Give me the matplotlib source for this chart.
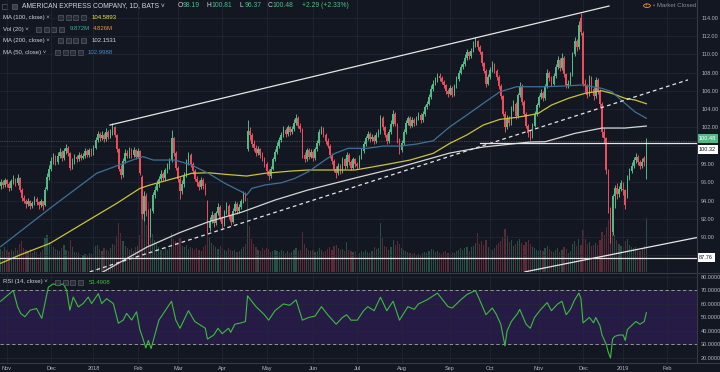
import matplotlib
matplotlib.use('Agg')
import matplotlib.pyplot as plt
from matplotlib.patches import Rectangle, Circle
from matplotlib.lines import Line2D
import numpy as np

# daily bars, AXP, late Oct 2017 .. mid Jan 2019 (index = trading day)
OPEN = [
    95.6, 96.0, 95.7, 96.2, 95.8, 95.4, 96.1, 96.3, 95.9, 96.5,
    95.2, 94.3, 94.0, 93.6, 93.9, 93.4, 93.7, 94.2, 93.8, 93.5,
    93.9, 93.5, 95.3, 96.6, 97.5, 98.3, 98.8, 98.2, 98.9, 99.3,
    98.6, 99.4, 99.8, 99.2, 97.6, 98.2, 98.8, 98.5, 99.0, 98.7,
    98.9, 99.4, 99.0, 99.5, 99.3, 99.8, 100.6, 101.3, 100.8, 101.2,
    100.7, 101.5, 101.0, 101.4, 102.0, 101.2, 99.6, 97.5, 96.8, 98.3,
    99.2, 98.9, 99.6, 99.0, 99.5, 98.8, 99.4, 96.6, 92.5, 94.5,
    92.8, 90.3, 92.8, 94.6, 95.2, 95.8, 96.4, 96.9, 96.5, 97.3,
    97.8, 98.4, 100.8, 99.2, 97.6, 96.4, 95.0, 95.8, 96.8, 98.2,
    99.0, 98.0, 97.2, 96.4, 96.0, 95.5, 96.3, 95.6, 94.0, 91.0,
    91.8, 92.4, 91.5, 92.6, 93.3, 92.1, 91.4, 92.7, 93.4, 92.3,
    91.7, 92.9, 93.6, 92.8, 93.3, 93.9, 94.6, 99.6, 101.6, 101.2,
    100.2, 99.8, 99.2, 99.6, 99.0, 98.6, 98.0, 97.2, 96.7, 97.5,
    98.5, 99.3, 100.0, 100.6, 101.2, 101.7, 101.3, 102.0, 101.5, 101.8,
    102.5, 103.0, 102.2, 101.8, 99.0, 98.5, 99.5, 98.8, 99.3, 98.6,
    99.6, 100.3, 101.5, 101.8, 101.2, 100.5, 100.0, 99.0, 98.3, 97.5,
    97.0, 97.8, 97.2, 98.5, 97.8, 99.0, 98.2, 97.6, 98.5, 98.0,
    97.8, 98.7, 99.4, 100.2, 100.8, 101.3, 100.7, 101.0, 100.5, 101.2,
    101.5, 103.0, 102.0, 101.2, 100.5, 101.5, 102.4, 103.5, 102.4, 100.6,
    99.5, 100.3, 101.5, 102.5, 103.0, 102.2, 102.8, 102.5, 103.0, 103.4,
    102.8, 103.5, 104.2, 104.6, 105.3, 106.2, 106.8, 107.2, 107.6, 107.4,
    107.0, 106.6, 106.0, 105.7, 106.3, 105.6, 106.5, 107.3, 108.0, 108.6,
    108.9, 109.6, 110.2, 109.8, 110.4, 111.0, 111.4, 110.8, 110.3, 109.0,
    108.2, 106.8, 107.5, 108.3, 108.9, 108.2, 107.5, 106.5, 105.4, 103.5,
    102.0, 103.0, 102.5, 104.0, 104.6, 103.2, 105.5, 106.5, 104.8, 103.5,
    102.2, 101.4, 101.0, 102.2, 103.5, 104.4, 105.3, 105.8, 105.2, 106.5,
    108.0, 107.4, 106.8, 107.6, 108.6, 109.4, 108.5, 109.6, 107.8, 106.6,
    106.8, 107.8, 110.0, 111.5, 110.8, 114.0, 112.3, 106.8, 106.5, 105.6,
    107.4, 106.2, 105.4, 107.2, 106.0, 104.6, 101.5, 100.8, 97.3, 93.0,
    90.6, 94.5, 95.4, 94.7, 95.3, 95.3, 95.2, 94.5, 96.5, 97.2,
    97.8, 98.4, 98.8, 98.2, 97.8, 98.6, 98.19]
HIGH = [
    96.4, 96.3, 96.5, 96.4, 96.0, 96.4, 96.8, 96.5, 96.9, 96.6,
    95.4, 94.6, 94.2, 94.3, 94.1, 94.0, 94.5, 94.4, 94.0, 94.2,
    94.0, 95.5, 97.0, 97.9, 98.8, 99.2, 99.0, 99.3, 99.7, 99.5,
    99.7, 100.2, 100.0, 99.3, 98.6, 99.1, 99.0, 99.3, 99.2, 99.2,
    99.8, 99.6, 99.8, 99.7, 100.1, 100.9, 101.6, 101.5, 101.6, 101.4,
    101.9, 101.7, 101.8, 102.5, 102.2, 101.3, 99.7, 97.9, 98.6, 99.6,
    99.5, 99.9, 99.8, 99.9, 99.6, 99.8, 99.5, 96.8, 95.0, 94.8,
    93.1, 93.2, 94.9, 95.6, 96.2, 96.7, 97.3, 97.1, 97.6, 98.1,
    98.6, 101.7, 101.0, 99.4, 97.8, 96.6, 96.2, 97.1, 98.5, 99.3,
    99.2, 98.2, 97.4, 96.7, 96.2, 96.6, 96.5, 95.9, 94.1, 92.2,
    92.8, 92.6, 92.9, 93.7, 93.5, 92.3, 93.0, 93.8, 93.6, 92.5,
    93.2, 94.0, 93.8, 93.6, 94.2, 95.0, 94.9, 102.8, 102.0, 101.4,
    100.6, 100.1, 100.0, 99.8, 99.3, 98.8, 98.2, 97.5, 97.8, 98.8,
    99.6, 100.4, 100.9, 101.5, 102.1, 101.9, 102.3, 102.2, 102.1, 102.9,
    103.5, 103.2, 102.5, 101.9, 99.3, 99.8, 99.7, 99.6, 99.5, 99.9,
    100.6, 101.8, 102.2, 102.0, 101.4, 100.8, 100.2, 99.2, 98.5, 97.8,
    98.1, 98.0, 98.8, 98.7, 99.3, 99.2, 98.4, 98.8, 98.7, 98.2,
    99.0, 99.7, 100.5, 101.1, 101.6, 101.5, 101.3, 101.2, 101.5, 101.8,
    103.4, 103.2, 102.2, 101.4, 101.8, 102.8, 103.9, 103.7, 102.5, 100.8,
    100.6, 101.8, 102.8, 103.3, 103.2, 103.1, 103.0, 103.3, 103.7, 103.6,
    103.8, 104.5, 104.9, 105.7, 106.6, 107.2, 107.5, 108.0, 107.9, 107.6,
    107.2, 106.8, 106.2, 106.6, 106.5, 106.8, 107.6, 108.3, 108.9, 109.3,
    110.0, 110.6, 110.4, 110.7, 111.4, 111.9, 111.6, 111.0, 110.4, 109.2,
    108.4, 107.8, 108.6, 109.3, 109.1, 108.4, 107.7, 106.7, 105.6, 103.8,
    103.4, 103.3, 104.3, 105.0, 104.8, 105.8, 107.0, 106.7, 105.0, 103.7,
    102.4, 101.7, 102.5, 103.8, 104.7, 105.6, 106.2, 106.0, 106.8, 108.4,
    108.2, 107.6, 107.9, 108.9, 109.8, 109.6, 110.1, 109.8, 108.0, 107.2,
    108.1, 110.3, 111.9, 111.7, 113.6, 114.5, 112.5, 107.3, 106.8, 107.7,
    107.6, 106.4, 107.5, 107.4, 106.2, 104.8, 101.9, 101.0, 97.5, 93.3,
    94.7, 95.7, 95.9, 95.6, 96.2, 96.0, 95.3, 96.8, 97.6, 98.2,
    98.8, 99.2, 99.0, 98.4, 98.6, 98.9, 100.81]
LOW = [
    95.3, 95.4, 95.5, 95.5, 95.0, 95.2, 95.8, 95.6, 95.7, 94.9,
    94.0, 93.7, 93.2, 93.4, 93.1, 93.2, 93.5, 93.5, 93.1, 93.3,
    93.0, 93.4, 95.1, 96.3, 97.2, 98.0, 97.9, 98.0, 98.7, 98.3,
    98.4, 99.1, 98.9, 97.3, 97.4, 98.0, 98.2, 98.3, 98.4, 98.5,
    98.7, 98.8, 98.8, 98.9, 99.0, 99.6, 100.4, 100.5, 100.6, 100.4,
    100.5, 100.7, 100.8, 101.2, 100.9, 99.3, 97.2, 96.4, 96.6, 98.1,
    98.6, 98.7, 98.7, 98.8, 98.5, 98.6, 96.8, 92.0, 91.8, 92.3,
    89.1, 90.0, 92.6, 94.3, 95.0, 95.5, 96.1, 96.2, 96.3, 97.0,
    97.5, 98.2, 98.9, 97.3, 96.0, 94.2, 94.7, 95.5, 96.6, 97.9,
    97.7, 96.9, 96.1, 95.6, 95.1, 95.3, 95.3, 94.6, 90.4, 90.7,
    91.5, 91.1, 91.3, 92.4, 91.8, 91.0, 91.2, 92.5, 92.0, 91.3,
    91.5, 92.7, 92.5, 92.6, 93.1, 93.7, 94.0, 99.4, 100.6, 99.9,
    99.4, 98.9, 99.0, 98.7, 98.3, 97.7, 96.8, 96.3, 96.5, 97.3,
    98.3, 99.1, 99.8, 100.4, 101.0, 101.0, 101.1, 101.2, 101.3, 101.6,
    102.3, 101.9, 101.5, 98.7, 98.2, 98.3, 98.5, 98.6, 98.3, 98.4,
    99.4, 100.1, 101.3, 100.9, 100.2, 99.7, 98.7, 98.0, 97.1, 96.5,
    96.8, 96.9, 97.0, 97.5, 97.6, 97.9, 97.3, 97.4, 97.7, 97.4,
    97.6, 98.5, 99.2, 100.0, 100.6, 100.4, 100.5, 100.2, 100.3, 101.0,
    101.3, 101.7, 100.9, 100.2, 100.3, 101.3, 102.2, 102.1, 100.3, 99.1,
    99.3, 100.1, 101.3, 102.3, 101.9, 102.0, 102.2, 102.3, 102.8, 102.5,
    102.6, 103.3, 104.0, 104.4, 105.1, 106.0, 106.6, 107.0, 107.1, 106.7,
    106.3, 105.7, 105.3, 105.5, 105.3, 105.4, 106.3, 107.1, 107.8, 108.4,
    108.7, 109.4, 109.5, 109.6, 110.2, 110.8, 110.5, 110.0, 108.7, 107.9,
    106.4, 106.6, 107.3, 108.1, 107.9, 107.2, 106.2, 105.1, 103.2, 101.5,
    101.8, 102.1, 102.3, 103.8, 102.9, 103.0, 105.3, 104.5, 103.2, 101.9,
    101.0, 100.6, 100.8, 102.0, 103.3, 104.2, 105.1, 104.9, 105.0, 106.3,
    107.1, 106.5, 106.6, 107.4, 108.4, 108.2, 108.3, 107.5, 106.3, 106.3,
    106.6, 107.6, 109.8, 110.4, 110.6, 112.1, 106.5, 105.9, 105.2, 105.4,
    105.9, 105.0, 105.2, 105.7, 104.2, 101.0, 100.3, 96.9, 92.6, 89.3,
    90.2, 93.2, 94.2, 94.4, 95.0, 94.6, 93.1, 94.3, 96.2, 97.0,
    97.6, 98.1, 97.9, 97.4, 97.6, 97.8, 96.37]
CLOSE = [
    96.0, 95.7, 96.2, 95.8, 95.4, 96.1, 96.3, 95.9, 96.5, 95.2,
    94.3, 94.0, 93.6, 93.9, 93.4, 93.7, 94.2, 93.8, 93.5, 93.9,
    93.4, 95.2, 96.6, 97.5, 98.3, 98.8, 98.2, 98.9, 99.3, 98.6,
    99.4, 99.8, 99.2, 97.6, 98.2, 98.8, 98.5, 99.0, 98.7, 98.9,
    99.4, 99.0, 99.5, 99.2, 99.8, 100.6, 101.3, 100.8, 101.2, 100.7,
    101.5, 101.0, 101.4, 102.0, 101.2, 99.6, 97.5, 96.8, 98.3, 99.2,
    98.9, 99.6, 99.0, 99.5, 98.8, 99.4, 97.0, 92.5, 94.5, 92.8,
    90.3, 92.8, 94.6, 95.2, 95.8, 96.4, 96.9, 96.5, 97.3, 97.8,
    98.3, 100.8, 99.2, 97.6, 96.4, 95.0, 95.8, 96.8, 98.2, 99.0,
    98.0, 97.2, 96.4, 96.0, 95.5, 96.3, 95.6, 94.9, 91.0, 91.8,
    92.4, 91.5, 92.6, 93.3, 92.1, 91.4, 92.7, 93.4, 92.3, 91.7,
    92.9, 93.6, 92.8, 93.3, 93.9, 94.6, 94.3, 101.6, 101.2, 100.2,
    99.8, 99.2, 99.6, 99.0, 98.6, 98.0, 97.2, 96.7, 97.5, 98.5,
    99.3, 100.0, 100.6, 101.2, 101.7, 101.3, 102.0, 101.5, 101.8, 102.5,
    103.0, 102.2, 101.8, 99.0, 98.5, 99.5, 98.8, 99.3, 98.6, 99.6,
    100.3, 101.5, 101.8, 101.2, 100.5, 100.0, 99.0, 98.3, 97.5, 97.0,
    97.8, 97.2, 98.5, 97.8, 99.0, 98.2, 97.6, 98.5, 98.0, 97.8,
    98.7, 99.4, 100.2, 100.8, 101.3, 100.7, 101.0, 100.5, 101.2, 101.5,
    103.0, 102.0, 101.2, 100.5, 101.5, 102.4, 103.5, 102.4, 100.6, 99.5,
    100.3, 101.5, 102.5, 103.0, 102.2, 102.8, 102.5, 103.0, 103.4, 102.8,
    103.5, 104.2, 104.6, 105.3, 106.2, 106.8, 107.2, 107.6, 107.4, 107.0,
    106.6, 106.0, 105.7, 106.3, 105.6, 106.5, 107.3, 108.0, 108.6, 108.9,
    109.6, 110.2, 109.8, 110.4, 111.0, 111.4, 110.8, 110.3, 109.0, 108.2,
    106.8, 107.5, 108.3, 108.9, 108.2, 107.5, 106.5, 105.4, 103.5, 102.0,
    103.0, 102.5, 104.0, 104.6, 103.2, 105.5, 106.5, 104.8, 103.5, 102.2,
    101.4, 101.0, 102.2, 103.5, 104.4, 105.3, 105.8, 105.2, 106.5, 108.0,
    107.4, 106.8, 107.6, 108.6, 109.4, 108.5, 109.6, 107.8, 106.6, 106.8,
    107.8, 110.0, 111.5, 110.8, 113.2, 112.4, 106.8, 106.5, 105.6, 107.4,
    106.2, 105.4, 107.2, 106.0, 104.6, 101.5, 100.8, 97.3, 93.0, 90.3,
    94.5, 95.4, 94.7, 95.3, 95.9, 95.2, 93.5, 96.5, 97.2, 97.8,
    98.4, 98.8, 98.2, 97.8, 98.2, 98.19, 100.48]
VOLUME = [  # millions
    4.2, 3.8, 4.5, 4.0, 3.6, 4.1, 3.9, 4.4, 4.0, 5.2,
    5.6, 4.3, 4.0, 3.8, 4.2, 3.5, 3.9, 3.7, 2.8, 3.6,
    4.1, 6.2, 6.8, 5.5, 5.0, 4.6, 4.2, 4.0, 3.8, 4.4,
    4.9, 4.1, 3.9, 5.8, 4.5, 3.7, 3.6, 3.4, 2.6, 3.1,
    3.3, 2.9, 3.5, 3.2, 4.6, 4.8, 5.0, 4.2, 3.9, 4.4,
    4.1, 3.8, 4.3, 5.2, 4.9, 6.5, 9.0, 7.2, 5.6, 4.8,
    4.4, 4.0, 4.3, 3.9, 4.6, 4.8, 6.7, 11.5, 9.8, 8.6,
    12.8, 9.5, 7.0, 5.8, 5.2, 4.6, 4.1, 3.9, 4.3, 4.0,
    4.4, 7.2, 6.1, 5.6, 5.4, 6.3, 4.8, 4.5, 5.0, 4.2,
    4.6, 4.3, 4.0, 4.4, 4.1, 3.8, 4.5, 4.9, 8.2, 6.4,
    5.3, 5.0, 4.6, 4.2, 4.8, 4.4, 4.0, 3.9, 4.3, 4.1,
    3.8, 4.0, 3.7, 3.9, 4.2, 4.6, 5.1, 13.6, 8.4, 6.0,
    5.2, 4.6, 4.1, 3.9, 4.3, 4.0, 4.4, 4.2, 3.7, 3.9,
    4.1, 3.8, 3.6, 4.0, 3.9, 3.5, 3.8, 3.4, 3.6, 4.0,
    4.3, 3.9, 4.1, 7.4, 5.2, 4.4, 4.0, 3.8, 4.1, 3.7,
    3.9, 4.3, 4.0, 3.6, 3.8, 4.2, 4.5, 4.1, 4.8, 5.0,
    4.3, 4.0, 4.2, 3.9, 5.4, 4.1, 3.8, 3.6, 3.9, 2.9,
    3.5, 3.8, 3.7, 4.0, 3.6, 3.4, 3.9, 4.6, 4.2, 4.4,
    8.9, 6.2, 4.8, 4.5, 4.1, 4.6, 5.8, 4.9, 5.6, 5.1,
    4.4, 4.0, 3.8, 3.6, 3.4, 3.2, 3.5, 3.1, 3.3, 3.0,
    3.4, 3.7, 3.5, 3.9, 4.2, 4.0, 3.6, 3.8, 3.4, 3.3,
    3.6, 3.9, 3.5, 3.2, 3.7, 3.4, 3.8, 4.1, 4.4, 4.0,
    4.3, 4.6, 3.9, 4.5, 4.8, 5.3, 7.2, 5.1, 5.6, 5.0,
    5.8, 4.6, 4.2, 4.0, 4.4, 4.9, 5.3, 5.7, 6.4, 7.8,
    6.6, 5.4, 5.9, 4.8, 5.2, 5.6, 6.0, 5.3, 4.9, 5.4,
    5.8, 5.1, 4.6, 4.3, 4.0, 3.8, 4.1, 3.9, 4.4, 4.8,
    4.2, 3.9, 3.7, 4.0, 4.3, 3.6, 4.1, 4.5, 4.2, 3.4,
    3.9, 5.2, 5.6, 4.8, 6.1, 5.0, 7.6, 6.0, 5.1, 5.4,
    4.7, 4.9, 5.3, 5.0, 5.8, 7.4, 6.8, 8.3, 9.6, 6.9,
    8.8, 6.7, 5.9, 5.1, 4.8, 4.5, 5.6, 6.0, 4.9, 4.6,
    4.3, 4.5, 4.2, 3.9, 4.4, 4.7, 9.87]

# moving averages (bar index, value)
MA50_IDX = [0, 23.4, 45.5, 64.5, 67.6, 72.3, 82.6, 90.5, 98.4, 106.3, 114.2, 116.6, 119.0,
            125.3, 133.2, 139.5, 145.8, 153.7, 158.4, 164.7, 173.5, 181.3, 189.2, 197.2,
            205.0, 212.9, 220.9, 228.7, 236.6, 244.5, 250.9, 258.0, 267.4, 275.3, 284.8,
            289.6, 295.9, 300.6, 306.0]
MA50_VAL = [88.95, 93.15, 96.98, 98.6, 98.8, 98.43, 98.43, 97.88, 96.98, 95.88, 94.96, 94.6,
            95.33, 95.7, 95.95, 96.43, 97.15, 98.43, 99.16, 99.71, 99.71, 99.96, 99.96,
            100.18, 100.54, 102.07, 103.35, 104.63, 105.9, 106.45, 106.45, 106.45, 106.53,
            106.64, 106.28, 105.9, 104.63, 103.7, 103.0]
MA100_IDX = [0, 9.1, 23.4, 39.1, 55.0, 66.0, 70.8, 85.0, 90.5, 98.4, 106.3, 116.6, 125.3,
             137.9, 145.8, 167.9, 181.3, 194.0, 205.0, 212.9, 220.9, 228.7, 236.6, 244.5,
             250.9, 254.8, 261.1, 269.0, 276.9, 284.8, 289.6, 295.9, 300.6, 306.0]
MA100_VAL = [87.13, 88.04, 89.32, 91.5, 93.69, 95.33, 95.7, 96.6, 96.98, 97.04, 96.87, 96.68,
             96.98, 97.23, 97.34, 97.34, 97.88, 98.43, 99.16, 100.26, 101.17, 102.26, 102.88,
             103.1, 103.35, 103.54, 104.45, 105.18, 105.73, 106.01, 105.73, 105.18, 105.0,
             104.59]
MA200_IDX = [35, 48.5, 69.3, 85.0, 98.2, 114.4, 130.0, 145.6, 167.9, 189.2, 212.9, 228.6,
             250.9, 258.0, 272.2, 285.0, 295.9, 306.0]
MA200_VAL = [84.6, 86.18, 88.9, 90.5, 91.65, 92.74, 94.05, 95.15, 96.46, 97.66, 99.2, 99.85,
             100.4, 100.43, 101.35, 101.93, 101.93, 102.15]

RSI_IDX = [0, 3, 6, 8, 9.5, 11.5, 14, 17, 19.5, 21, 22.6, 25, 27.3, 29.7, 31.3, 32.8, 34.4,
           36.8, 39.1, 41.5, 43.1, 46.3, 47.9, 50.2, 53.4, 55.8, 58.1, 59.7, 62.1, 64.4, 66,
           67.6, 68.8, 70, 71.3, 72.7, 75, 78, 81, 83, 85, 89, 92, 97, 98, 101, 103, 105, 108,
           109, 111, 114, 116, 117, 118, 121, 125, 127, 130, 134, 137, 140, 143, 146, 149, 152,
           155, 159, 162, 164, 166, 169, 172, 174, 177, 180, 183, 186, 189, 193, 196, 198, 202,
           207, 212, 214, 218, 221, 225, 227, 230, 233, 235, 237, 239, 240, 242, 245, 246, 249,
           251, 253, 256, 259, 261, 264, 266, 268, 270, 272, 274, 275, 276, 279, 281, 282, 284,
           285, 287, 288, 289, 290, 291, 293, 295, 296, 297, 299, 301, 303, 305, 306]
RSI_VAL = [62, 66, 70, 58, 53, 50.5, 55.4, 56.6, 49.3, 60.3, 72.4, 74.9, 73.6, 74.9, 70, 55.4,
           65.1, 57.8, 60.3, 65.1, 60.3, 67.6, 60.3, 63.9, 60.3, 45.7, 48.1, 53, 48.1, 54.2,
           40.9, 33.6, 27.5, 33, 27, 35, 48, 55, 62, 48, 42, 55, 47, 42, 34, 37, 42, 38, 42, 39,
           45, 46, 47, 66, 64, 58, 52, 48, 55, 60, 59, 63, 48, 50, 51, 58, 52, 45, 50, 52, 48,
           48, 55, 58, 55, 65, 55, 62, 48, 58, 56, 60, 63, 68, 58, 57, 63, 67, 70, 63, 52, 57,
           52, 45, 29, 40, 47, 53, 56, 45, 42, 50, 56, 61, 55, 60, 62, 52, 56, 63, 68, 64, 46,
           50, 46, 50, 44, 37, 30, 24, 20, 34, 36, 37, 37, 33, 41, 44, 47, 45, 47, 53.49]

# drawings on the chart: (start idx, end idx), (start price, end price)
TREND_UPPER = ([51.8, 288.3], [102.26, 115.28])
TREND_LOWER = ([42.3, 325.7], [86.2, 107.2])
TREND_BOTTOM = ([248.5, 331.0], [86.2, 90.0])
HLINE_LOW = 87.76
HLINE_MID = 100.32
HLINE_MID_START = 227
LAST_PRICE = 100.48

MONTH_IDX = [3, 24, 44, 65, 84, 105, 126, 148, 169, 190, 213, 232, 255, 276, 295, 316]
MONTH_LBL = ['Nov', 'Dec', '2018', 'Feb', 'Mar', 'Apr', 'May', 'Jun', 'Jul', 'Aug', 'Sep',
             'Oct', 'Nov', 'Dec', '2019', 'Feb']
PRICE_TICKS = list(range(88, 116, 2))
RSI_TICKS = [20, 30, 40, 50, 60, 70, 80]

BG = '#131722'
GRID = '#242834'
TXT = '#b2b5be'
WHITE = '#d1d4dc'
UP = '#53b987'
DOWN = '#eb4d5c'
W, H = 720, 372

plt.rcParams['font.family'] = ['Liberation Sans', 'DejaVu Sans']


def box(x0, y0, x1, y1):
    return [x0 / W, 1 - y1 / H, (x1 - x0) / W, (y1 - y0) / H]


def px(x, y):
    return x / W, 1 - y / H


fig = plt.figure(figsize=(7.2, 3.72), dpi=100, facecolor=BG)
ax_vol = fig.add_axes(box(0, 0, 697, 272))
ax = fig.add_axes(box(0, 0, 697, 272), sharex=ax_vol)
ax_rsi = fig.add_axes(box(0, 273, 697, 363), sharex=ax_vol)
ax_vol.set_zorder(0)
ax.set_zorder(1)
ax.patch.set_visible(False)
for a in (ax_vol, ax, ax_rsi):
    a.set_facecolor(BG)
    for s in a.spines.values():
        s.set_visible(False)

idx = np.arange(len(CLOSE))
o = np.array(OPEN)
c = np.array(CLOSE)
up = c >= o
cols = np.where(up, UP, DOWN)

# volume
ax_vol.bar(idx, VOLUME, width=0.55, color=cols, alpha=0.35, linewidth=0)
ax_vol.set_ylim(0, 49.7)
ax_vol.set_axis_off()

# grid / axes
ax.set_xlim(-0.3, 330)
ax.set_ylim(86.18, 115.94)
ax.set_xticks(MONTH_IDX)
ax.set_yticks(PRICE_TICKS)
ax.set_yticklabels(['' if t in (88, 100) else f'{t:.2f}' for t in PRICE_TICKS])
ax.yaxis.tick_right()
ax.tick_params(axis='y', length=0, pad=3, labelsize=4, labelcolor=TXT)
ax.tick_params(axis='x', length=0, labelbottom=False)
ax.grid(True, color=GRID, lw=0.5)
ax.set_axisbelow(True)

# candles
ax.vlines(idx, LOW, HIGH, colors=cols, linewidth=0.7, zorder=3)
body = np.maximum(np.abs(c - o), 0.07)
ax.bar(idx, body, bottom=np.minimum(o, c), width=0.75, color=cols, linewidth=0, zorder=4)

# moving averages
ax.plot(MA200_IDX, MA200_VAL, color='#d6d6d6', lw=0.9, zorder=5)
ax.plot(MA100_IDX, MA100_VAL, color='#c9c33a', lw=0.9, zorder=5)
ax.plot(MA50_IDX, MA50_VAL, color='#3f7196', lw=0.9, zorder=5)

# drawings
ax.plot(*TREND_UPPER, color='#e6e6e6', lw=0.9, zorder=6)
ax.plot(*TREND_LOWER, color='#e6e6e6', lw=0.9, ls=(0, (3, 2.5)), zorder=6)
ax.plot(*TREND_BOTTOM, color='#e6e6e6', lw=0.9, zorder=6)
ax.axhline(HLINE_LOW, color='#e6e6e6', lw=0.9, zorder=6)
ax.plot([HLINE_MID_START, 330], [HLINE_MID, HLINE_MID], color='#e6e6e6', lw=0.9, zorder=6)
ax.axhline(LAST_PRICE, color=UP, lw=0.5, ls=(0, (1, 1.5)), alpha=0.7, zorder=2)

ytr = ax.get_yaxis_transform()
ax.text(1.003, LAST_PRICE, f'{LAST_PRICE:.2f}', transform=ytr, fontsize=4, color='white',
        va='bottom', ha='left', clip_on=False,
        bbox=dict(boxstyle='square,pad=0.35', fc=UP, ec='none'))
ax.annotate(f'{HLINE_MID:.2f}', xy=(1.003, HLINE_MID), xycoords=ytr, xytext=(0, -5),
            textcoords='offset points', fontsize=4, color=BG, va='center', ha='left',
            bbox=dict(boxstyle='square,pad=0.35', fc='white', ec='none'))
ax.text(1.003, HLINE_LOW, f'{HLINE_LOW:.2f}', transform=ytr, fontsize=4, color=BG,
        va='center', ha='left', clip_on=False,
        bbox=dict(boxstyle='square,pad=0.35', fc='white', ec='none'))

# RSI pane
ax_rsi.set_ylim(16.3, 82.9)
ax_rsi.axhspan(30, 70, color='#251b45', lw=0, zorder=0)
ax_rsi.set_yticks(RSI_TICKS)
ax_rsi.set_yticklabels([f'{t:.4f}' for t in RSI_TICKS])
ax_rsi.yaxis.tick_right()
ax_rsi.tick_params(axis='y', length=0, pad=3, labelsize=4, labelcolor=TXT)
ax_rsi.set_xticks(MONTH_IDX)
ax_rsi.set_xticklabels(MONTH_LBL)
ax_rsi.tick_params(axis='x', length=0, pad=2, labelsize=4, labelcolor=TXT)
ax_rsi.grid(True, color=GRID, lw=0.5)
ax_rsi.set_axisbelow(True)
for lvl in (70, 30):
    ax_rsi.axhline(lvl, color='#a3a6af', lw=0.6, ls=(0, (4, 3)), zorder=2)
ax_rsi.plot(RSI_IDX, RSI_VAL, color='#3cbd3c', lw=0.8, zorder=3)

# pane borders
for (x0, y0, x1, y1) in [(697, 0, 697, 363), (0, 272.5, 720, 272.5), (0, 363, 720, 363)]:
    fig.add_artist(Line2D([x0 / W, x1 / W], [1 - y0 / H, 1 - y1 / H], color='#363a45', lw=0.8))


def icons(x, y):
    for k in range(4):
        fig.add_artist(Rectangle(px(x + k * 7.5, y + 2.5), 5 / W, 5 / H, fc='#2a2e39',
                                 ec='#6a6d78', lw=0.4))


def t(x, y, s, color=WHITE, size=4.3, **kw):
    fig.text(*px(x, y), s, color=color, fontsize=size, va='center', ha='left', **kw)


# header
fig.add_artist(Rectangle(px(2, 8.5), 5 / W, 5 / H, fc='none', ec='#6a6d78', lw=0.4))
fig.add_artist(Rectangle(px(12, 8.5), 5 / W, 5 / H, fc='#3a3e4a', ec='#6a6d78', lw=0.4))
t(22, 5.7, 'AMERICAN EXPRESS COMPANY, 1D, BATS \u02c5', size=4.9)
for lab, val, x in [('O', '98.19', 178), ('H', '100.81', 207), ('L', '96.37', 240),
                    ('C', '100.48', 268)]:
    t(x, 5.7, lab, size=4.9)
    t(x + 4.8, 5.7, val, color=UP, size=4.9)
t(302, 5.7, '+2.29 (+2.33%)', color=UP, size=4.9)

t(3, 17.3, 'MA (100, close) \u02c5')
icons(58, 17.3)
t(92, 17.3, '104.5893', color='#e8e44a')
t(3, 29, 'Vol (20) \u02c5')
icons(36, 29)
t(70, 29, '9.872M', color='#3fae93')
t(93, 29, '4.826M', color='#f0913a')
t(3, 40.7, 'MA (200, close) \u02c5')
icons(58, 40.7)
t(92, 40.7, '102.1531', color=WHITE)
t(3, 52.3, 'MA (50, close) \u02c5')
icons(55, 52.3)
t(88, 52.3, '102.9988', color='#4a8dc0')

fig.add_artist(Circle(px(647, 5.7), 3.4 / W, fc='none', ec='#f29b38', lw=0.6,
                      transform=fig.transFigure))
t(645.8, 5.9, '!', color='#f29b38', size=3.6)
t(653, 5.7, '\u2022 Market Closed', color='#8a8d96', size=4.4)

t(3, 282, 'RSI (14, close) \u02c5')
icons(55, 282)
t(89, 282, '53.4908', color='#3cbd3c')

fig.savefig('out.png', dpi=100, facecolor=BG)
